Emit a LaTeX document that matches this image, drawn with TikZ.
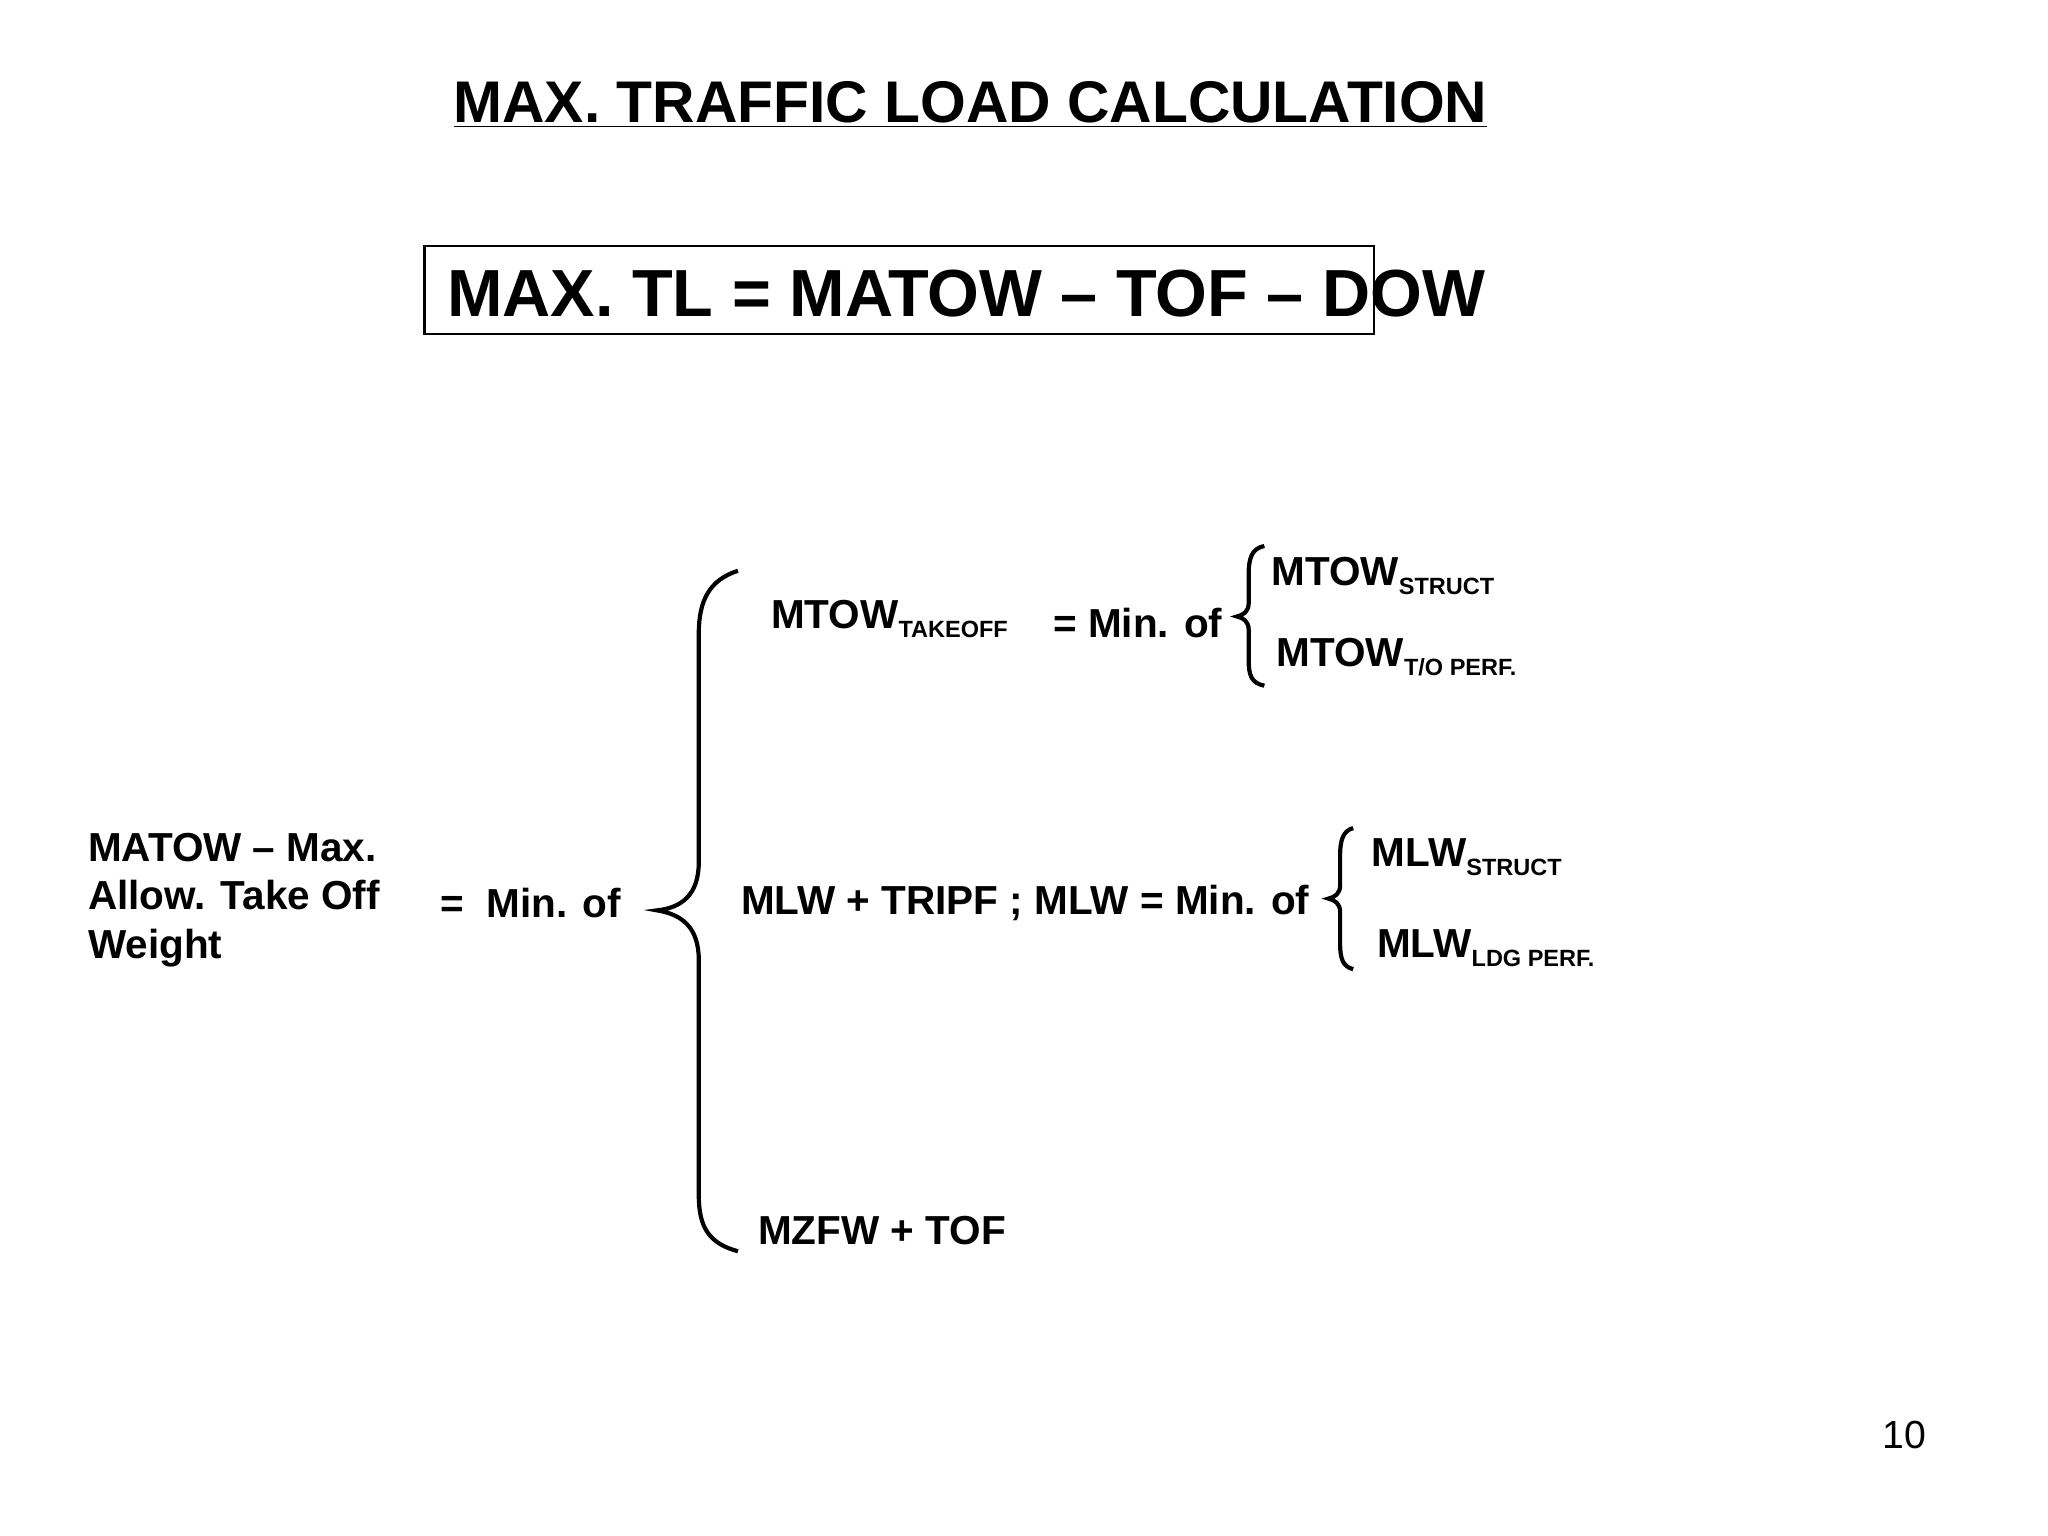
\documentclass[tikz,border=0pt]{standalone}
\usepackage{fontspec}
\setmainfont{Liberation Sans}
\newcommand{\lsub}[1]{\raisebox{-3.5pt}{\fontsize{9}{10}\selectfont #1}}
\begin{document}
\begin{tikzpicture}[x=0.5pt,y=-0.5pt,
 txt/.style={anchor=west,inner sep=0pt,font=\fontsize{15.5}{19}\selectfont\bfseries},
 brace/.style={line width=1.6pt}]
\useasboundingbox (0,0) rectangle (1568,1176);
\node[inner sep=0pt,font=\fontsize{22.5}{26}\selectfont\bfseries] (title) at (743,80) {\underline{MAX. TRAFFIC LOAD CALCULATION}};
\draw[line width=0.8pt] (325,188) rectangle (1052,256);
\node[anchor=west,inner sep=0pt,font=\fontsize{25.5}{30}\selectfont\bfseries] (formula) at (342,225) {MAX. TL = MATOW -- TOF -- DOW};
\node[txt,align=left,font=\fontsize{15.5}{18.5}\selectfont\bfseries] (matow) at (67,689) {MATOW -- Max.\\Allow. Take Off\\Weight};
\node[txt] (min1) at (337,691) {=\ \ Min. of};
\node[txt] (mtowto) at (590,474) {MTOW\lsub{TAKEOFF}};
\node[txt] (min2) at (806,477) {= Min. of};
\node[txt] (mtows) at (973,441) {MTOW\lsub{STRUCT}};
\node[txt] (mtowp) at (977,503) {MTOW\lsub{T/O PERF.}};
\node[txt] (mlw) at (567,691) {MLW + TRIPF ; MLW = Min. of};
\node[txt] (mlws) at (1050,656) {MLW\lsub{STRUCT}};
\node[txt] (mlwp) at (1054,726) {MLW\lsub{LDG PERF.}};
\node[txt] (mzfw) at (580,942) {MZFW + TOF};
\node[anchor=center,inner sep=0pt,font=\fontsize{15}{18}\selectfont] (page) at (1458,1099) {10};
\draw[brace] (565,437) .. controls (543,444) and (535,460) .. (535,485) -- (535,660) .. controls (535,685) and (522,695) .. (503,697) .. controls (522,700) and (535,710) .. (535,735) -- (535,915) .. controls (535,940) and (543,952) .. (565,958);
\draw[brace] (968,418) .. controls (958,420) and (956,428) .. (956,440) -- (956,462) .. controls (956,468) and (952,471) .. (947,472) .. controls (952,473) and (956,476) .. (956,482) -- (956,505) .. controls (956,517) and (958,523) .. (968,525);
\draw[brace] (1036,634) .. controls (1028,636) and (1026,644) .. (1026,655) -- (1026,678) .. controls (1026,684) and (1022,687) .. (1017,688) .. controls (1022,689) and (1026,692) .. (1026,698) -- (1026,722) .. controls (1026,734) and (1028,740) .. (1036,742);
\end{tikzpicture}
\end{document}
